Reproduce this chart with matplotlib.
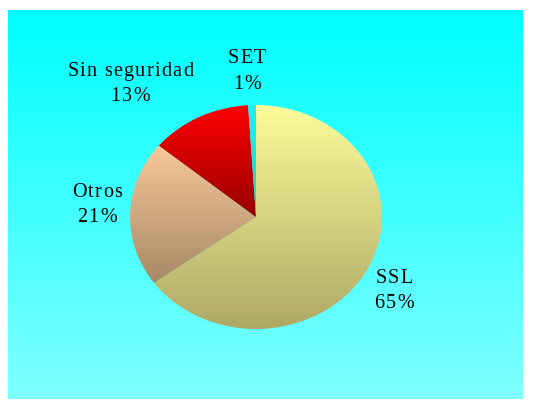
import numpy as np
import matplotlib
matplotlib.use("Agg")
import matplotlib.pyplot as plt
from matplotlib.colors import LinearSegmentedColormap
from matplotlib.font_manager import FontProperties, findfont, get_font

categories = ["SSL", "Otros", "Sin seguridad", "SET"]
values = [65, 21, 13, 1]
pct_labels = ["65%", "21%", "13%", "1%"]

W, H = 542, 401
DPI = 100
fig = plt.figure(figsize=(W / DPI, H / DPI), dpi=DPI)
fig.patch.set_facecolor("white")

def fx(px):
    return px / W

def fy(py):
    return 1 - py / H

# background gradient panel
bg = fig.add_axes([fx(8), fy(399), fx(523) - fx(8), fy(10) - fy(399)])
bg.set_axis_off()
bgcmap = LinearSegmentedColormap.from_list("bg", ["#00FFFF", "#80FFFF"])
grad = np.linspace(0, 1, 256).reshape(-1, 1)
bg.imshow(grad, aspect="auto", cmap=bgcmap, extent=[0, 1, 0, 1], origin="upper")

# pie axes (bounding box of the pie)
left, right, top, bottom = 130, 382, 105, 329
ax = fig.add_axes([fx(left), fy(bottom), fx(right) - fx(left), fy(top) - fy(bottom)])
wedges, _ = ax.pie(values, startangle=90, counterclock=False, radius=1.0,
                   wedgeprops=dict(linewidth=0))
ax.set_aspect("auto")
ax.set_axis_off()
ax.patch.set_alpha(0)

grads = [("#FCFC9A", "#AEA866"),
         ("#F8C99A", "#A68866"),
         ("#FF0000", "#960000"),
         ("#22F0F0", "#10D8D8")]

for w, (c1, c2) in zip(wedges, grads):
    w.set_facecolor("none")
    verts = w.get_path().vertices
    x0, x1 = verts[:, 0].min(), verts[:, 0].max()
    y0, y1 = verts[:, 1].min(), verts[:, 1].max()
    cm = LinearSegmentedColormap.from_list("g", [c1, c2])
    im = ax.imshow(grad, aspect="auto", cmap=cm, extent=[x0, x1, y0, y1],
                   origin="upper", zorder=1)
    im.set_clip_path(w)
    w.set_zorder(2)

ax.set_xlim(-1, 1)
ax.set_ylim(-1, 1)

# letter-spaced serif labels
FS = 14.5
TRACK = 1.3  # px between letters
fp = FontProperties(family="Liberation Serif", size=FS)
font = get_font(findfont(fp))
font.set_size(FS, DPI)

def advance(ch):
    g = font.load_char(ord(ch))
    return g.linearHoriAdvance / 65536.0

def tracked_text(s, cx, baseline):
    advs = [advance(c) for c in s]
    total = sum(advs) + TRACK * (len(s) - 1)
    x = cx - total / 2
    for c, a in zip(s, advs):
        if c != " ":
            fig.text(fx(x), fy(baseline), c, ha="left", va="baseline",
                     fontproperties=fp, color="black")
        x += a + TRACK

# (center x, baseline line1, baseline line2) in pixels
label_pos = [(394, 283, 308), (97, 197, 222), (130, 76, 101), (247, 63, 89)]
for cat, pct, (px, b1, b2) in zip(categories, pct_labels, label_pos):
    tracked_text(cat, px, b1)
    tracked_text(pct, px, b2)

fig.savefig("out.png", dpi=DPI)
